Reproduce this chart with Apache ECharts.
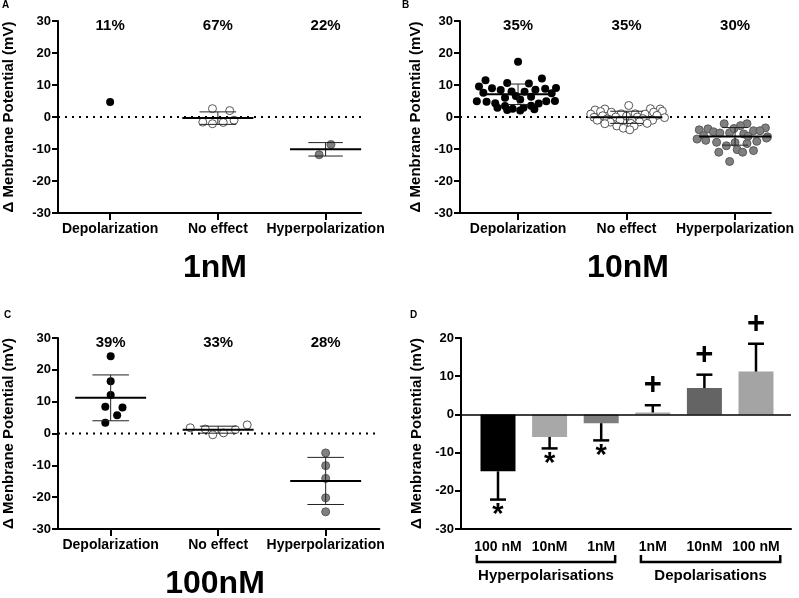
<!DOCTYPE html>
<html><head><meta charset="utf-8">
<script src="https://cdn.jsdelivr.net/npm/echarts@6/dist/echarts.min.js"></script>
<style>html,body{margin:0;padding:0;background:#fff}#c{width:799px;height:598px}</style>
</head><body><div id="c"></div>
<script>
// ---------------- DATA ----------------
const categories = ['Depolarization', 'No effect', 'Hyperpolarization'];
const panelTitles = ['1nM', '10nM', '100nM'];
const panelLetters = ['A', 'B', 'C', 'D'];
const yAxisName = '\u0394 Menbrane Potential (mV)';
const pctA = ['11%', '67%', '22%'];
const pctB = ['35%', '35%', '30%'];
const pctC = ['39%', '33%', '28%'];

// individual cells: [horizontal scatter offset within the column, value in mV]
const aDepol = [[0, 4.7]];
const aNoEffect = [[-0.05, 2.6], [0.11, 2.0], [-0.14, -1.6], [-0.05, -2.1], [0.05, -1.7], [0.15, -1.0]];
const aHyper = [[-0.06, -11.8], [0.05, -8.6]];
const aMean = [null, -0.3, -10.1];
const aSdLow = [null, -2.3, -12.2];
const aSdHigh = [null, 1.6, -8.0];

const bDepol = [[0.00, 17.3], [0.22, 12.0], [-0.30, 11.5], [-0.10, 10.6], [0.10, 10.5], [-0.36, 9.5], [0.35, 9.1],
  [-0.24, 9.0], [0.25, 8.8], [-0.16, 8.4], [0.16, 8.5], [-0.06, 8.0], [0.06, 7.9], [-0.32, 7.6], [0.31, 7.4],
  [-0.02, 6.6], [0.12, 6.3], [-0.12, 6.0], [0.02, 5.5], [-0.38, 4.9], [-0.29, 4.8], [0.26, 4.9], [0.34, 5.0],
  [-0.21, 4.3], [0.19, 4.2], [-0.12, 3.4], [0.12, 3.5], [-0.19, 2.9], [0.05, 2.9], [-0.05, 2.6], [0.15, 2.4],
  [-0.10, 2.2], [0.02, 2.0]];
const bNoEffect = [[0.02, 3.6], [-0.20, 2.5], [0.22, 2.6], [-0.29, 2.2], [0.31, 2.5], [-0.24, 1.7], [-0.14, 1.5],
  [0.25, 1.5], [0.33, 1.8], [-0.33, 0.9], [-0.05, 1.0], [0.08, 1.0], [0.17, 0.9], [-0.22, 0.4], [0.28, 0.5],
  [-0.10, 0.0], [0.10, 0.0], [0.00, 0.3], [-0.30, -0.1], [0.35, -0.2], [-0.18, -0.6], [0.15, -0.5], [-0.27, -1.0],
  [-0.06, -1.0], [0.05, -1.1], [0.24, -1.0], [-0.15, -1.6], [0.12, -1.5], [-0.20, -2.1], [0.04, -2.0], [0.19, -2.0],
  [-0.09, -2.8], [0.07, -2.8], [-0.03, -3.5], [0.03, -4.0]];
const bHyper = [[-0.10, -2.1], [0.11, -2.1], [0.05, -2.7], [-0.25, -3.7], [0.28, -3.4], [-0.33, -4.0], [-0.20, -4.6],
  [-0.14, -5.0], [-0.05, -4.9], [0.17, -4.3], [0.23, -4.3], [0.08, -5.3], [0.34, -3.8], [-0.01, -3.6], [-0.29, -5.8],
  [0.30, -6.2], [-0.27, -7.3], [-0.17, -7.9], [0.00, -8.0], [0.20, -7.6], [0.29, -6.6], [-0.08, -9.0], [0.11, -8.3],
  [-0.35, -6.9], [-0.15, -11.0], [0.02, -10.2], [0.07, -11.0], [0.17, -10.5], [-0.05, -13.9], [0.12, -6.0]];
const bMean = [7.1, -0.1, -6.1];
const bSdLow = [3.9, -2.0, -8.8];
const bSdHigh = [10.3, 1.8, -3.3];

const cDepol = [[0, 24.3], [0, 16.4], [0, 12.1], [-0.05, 8.4], [0.11, 8.2], [0.06, 5.7], [-0.05, 3.4]];
const cNoEffect = [[-0.26, 1.8], [-0.12, 1.4], [-0.05, -0.4], [0.05, 0.2], [0.16, 1.2], [0.27, 2.7]];
const cHyper = [[0, -6.1], [0, -10.1], [0, -14.1], [0, -20.2], [0, -24.6]];
const cMean = [11.2, 1.15, -14.9];
const cSdLow = [4.0, 0.1, -22.3];
const cSdHigh = [18.4, 2.3, -7.5];

const dCategories = ['100 nM', '10nM', '1nM', '1nM', '10nM', '100 nM'];
const dValues = [-14.9, -5.9, -2.3, 0.5, 6.9, 11.2];
const dErrEnd = [-22.3, -8.9, -6.8, 2.4, 10.4, 18.5];
const dMarks = ['*', '*', '*', '+', '+', '+'];
const dGroups = ['Hyperpolarisations', 'Depolarisations'];

// ---------------- STYLE / LAYOUT ----------------
const FF = '"Liberation Sans", Arial, Helvetica, sans-serif';
const dColors = ['#000000', '#a8a8a8', '#7e7e7e', '#a8a8a8', '#646464', '#a4a4a4'];
const MEAN_HALF = 0.33;
const panels = [
  {left: 53, top: 21, height: 192, min: -0.484, axisEnd: 2.33, dotEnd: 2.53, scale: 109.5, nameGap: 42,
   pts: [aDepol, aNoEffect, aHyper], mean: aMean, lo: aSdLow, hi: aSdHigh, cap: [0.17, 0.17, 0.16], pct: pctA,
   title: [215, 268], letter: [2, 5]},
  {left: 460, top: 21, height: 192, min: -0.535, axisEnd: 2.33, dotEnd: 2.49, scale: 108.5, nameGap: 37,
   pts: [bDepol, bNoEffect, bHyper], mean: bMean, lo: bSdLow, hi: bSdHigh, cap: [0.1, 0.15, 0.12], pct: pctB,
   title: [628, 268], letter: [402, 5]},
  {left: 52, top: 338, height: 191, min: -0.49, axisEnd: 2.50, dotEnd: 2.47, scale: 109.5, nameGap: 42,
   pts: [cDepol, cNoEffect, cHyper], mean: cMean, lo: cSdLow, hi: cSdHigh, cap: [0.17, 0.17, 0.17], pct: pctC,
   title: [215, 584], letter: [4, 315]}
];
const pointStyles = [
  {color: '#000000', borderColor: '#000000', borderWidth: 0},
  {color: '#ffffff', borderColor: '#555555', borderWidth: 1},
  {color: '#808080', borderColor: '#5a5a5a', borderWidth: 1}
];
const D = {left: 461, top: 338, height: 191, min: -0.717, max: 5.678, letter: [410, 315],
  brackets: [[-0.41, 2.27], [2.77, 5.47]]};

const grids = [], xAxes = [], yAxes = [], series = [];

function yAxisCfg(gi, min, max, gap) {
  return {
    type: 'value', gridIndex: gi, min: min, max: max, interval: 10,
    axisLine: {show: true, onZero: false, lineStyle: {color: '#000', width: 2}},
    axisTick: {show: true, length: 6, lineStyle: {color: '#000', width: 2}},
    axisLabel: {color: '#000', fontWeight: 'bold', fontSize: 13, fontFamily: FF, margin: 7},
    splitLine: {show: false},
    name: yAxisName, nameLocation: 'middle', nameGap: gap,
    nameTextStyle: {color: '#000', fontWeight: 'bold', fontSize: 15, fontFamily: FF}
  };
}

panels.forEach((p, gi) => {
  grids.push({left: p.left, top: p.top, width: (p.axisEnd - p.min) * p.scale, height: p.height});
  xAxes.push({
    type: 'value', gridIndex: gi, min: p.min, max: p.axisEnd,
    axisLine: {show: true, onZero: false, lineStyle: {color: '#000', width: 2}},
    axisTick: {show: true, customValues: [0, 1, 2], length: 7, lineStyle: {color: '#000', width: 2}},
    axisLabel: {show: true, customValues: [0, 1, 2], formatter: v => categories[Math.round(v)] || '',
      color: '#000', fontWeight: 'bold', fontSize: 14, fontFamily: FF, margin: 9},
    splitLine: {show: false}
  });
  yAxes.push(yAxisCfg(gi, -30, 30, p.nameGap));
  // zero dotted reference (runs a little past the axis end, as in the figure)
  series.push({type: 'line', xAxisIndex: gi, yAxisIndex: gi, data: [[p.min, 0], [p.dotEnd, 0]], symbol: 'none',
    silent: true, z: 1, clip: false, lineStyle: {color: '#000', width: 2, type: [2, 5]}});
  // points
  p.pts.forEach((arr, ci) => {
    series.push({type: 'scatter', xAxisIndex: gi, yAxisIndex: gi, symbolSize: 8, z: 2, silent: true,
      itemStyle: Object.assign({opacity: 1}, pointStyles[ci]),
      data: arr.map(d => [ci + d[0], d[1]])});
  });
  // mean + SD
  const sdata = [];
  p.mean.forEach((m, i) => { if (m !== null) sdata.push([i, m, p.lo[i], p.hi[i]]); });
  const capArr = p.cap;
  series.push({type: 'custom', xAxisIndex: gi, yAxisIndex: gi, z: 4, silent: true, clip: false,
    encode: {x: 0, y: 1}, data: sdata,
    renderItem: (params, api) => {
      const x = api.value(0), m = api.value(1), l = api.value(2), h = api.value(3);
      const c = capArr[Math.round(x)];
      const P = (a, b) => api.coord([a, b]);
      const L = (p1, p2, w, col) => ({type: 'line', shape: {x1: p1[0], y1: p1[1], x2: p2[0], y2: p2[1]},
        style: {stroke: col, lineWidth: w}});
      return {type: 'group', children: [
        L(P(x, l), P(x, h), 1, '#222'),
        L(P(x - c, h), P(x + c, h), 1, '#222'),
        L(P(x - c, l), P(x + c, l), 1, '#222'),
        L(P(x - MEAN_HALF, m), P(x + MEAN_HALF, m), 2, '#000')
      ]};
    }});
  // percentage labels
  const pct = p.pct;
  series.push({type: 'scatter', xAxisIndex: gi, yAxisIndex: gi, symbolSize: 0, silent: true, z: 7, clip: false,
    itemStyle: {opacity: 1},
    data: pct.map((t, i) => [i, 30]),
    label: {show: true, position: 'inside', offset: [0, 5], formatter: prm => pct[prm.dataIndex],
      color: '#000', fontWeight: 'bold', fontSize: 15, fontFamily: FF}});
});

// ---------- Panel D ----------
grids.push({left: D.left, top: D.top, width: (D.max - D.min) * 51.6, height: D.height});
xAxes.push({
  type: 'value', gridIndex: 3, min: D.min, max: D.max,
  axisLine: {show: true, onZero: false, lineStyle: {color: '#000', width: 2}},
  axisTick: {show: false},
  axisLabel: {show: true, customValues: [0, 1, 2, 3, 4, 5], formatter: v => dCategories[Math.round(v)] || '',
    color: '#000', fontWeight: 'bold', fontSize: 14, fontFamily: FF, margin: 11},
  splitLine: {show: false}
});
yAxes.push(yAxisCfg(3, -30, 20, 37));
series.push({type: 'bar', xAxisIndex: 3, yAxisIndex: 3, barWidth: 35, silent: true, z: 2,
  data: dValues.map((v, i) => ({value: [i, v], itemStyle: {color: dColors[i]}})),
  markLine: {silent: true, symbol: 'none', label: {show: false}, animation: false,
    lineStyle: {color: '#000', width: 1.5, type: 'solid'}, data: [{yAxis: 0}]}});
series.push({type: 'custom', xAxisIndex: 3, yAxisIndex: 3, z: 4, silent: true, clip: false,
  encode: {x: 0, y: 1}, data: dValues.map((v, i) => [i, v, dErrEnd[i]]),
  renderItem: (params, api) => {
    const a = api.coord([api.value(0), api.value(1)]);
    const b = api.coord([api.value(0), api.value(2)]);
    return {type: 'group', children: [
      {type: 'line', shape: {x1: a[0], y1: a[1], x2: b[0], y2: b[1]}, style: {stroke: '#000', lineWidth: 2.5}},
      {type: 'line', shape: {x1: b[0] - 8, y1: b[1], x2: b[0] + 8, y2: b[1]}, style: {stroke: '#000', lineWidth: 2.5}}
    ]};
  }});
series.push({type: 'scatter', xAxisIndex: 3, yAxisIndex: 3, symbolSize: 0, silent: true, z: 7, clip: false,
  itemStyle: {opacity: 1},
  data: dErrEnd.map((e, i) => ({value: [i, e], label: dMarks[i] === '*'
    ? {position: 'bottom', distance: 1, fontSize: 29}
    : {position: 'top', distance: 4, fontSize: 31}})),
  label: {show: true, formatter: prm => dMarks[prm.dataIndex], color: '#000', fontWeight: 'bold', fontFamily: FF}});

const chart = echarts.init(document.getElementById('c'), null, {renderer: 'canvas'});
chart.setOption({animation: false, backgroundColor: '#fff', grid: grids, xAxis: xAxes, yAxis: yAxes, series: series});

// ---------- annotations ----------
const gfx = [];
const txt = (x, y, text, size, align) => ({type: 'text', x: x, y: y, silent: true, z: 10,
  style: {text: text, fill: '#000', font: 'bold ' + size + 'px ' + FF,
    textAlign: align || 'center', align: align || 'center', textVerticalAlign: 'middle', verticalAlign: 'middle'}});
panels.forEach((p, i) => {
  gfx.push(txt(p.title[0], p.title[1], panelTitles[i], 32));
  gfx.push(txt(p.letter[0], p.letter[1], panelLetters[i], 10, 'left'));
});
gfx.push(txt(D.letter[0], D.letter[1], panelLetters[3], 10, 'left'));
D.brackets.forEach((br, i) => {
  const x1 = chart.convertToPixel({xAxisIndex: 3}, br[0]);
  const x2 = chart.convertToPixel({xAxisIndex: 3}, br[1]);
  gfx.push({type: 'polyline', silent: true, z: 10, shape: {points: [[x1, 555], [x1, 562], [x2, 562], [x2, 555]]},
    style: {stroke: '#000', lineWidth: 2.5, fill: null}});
  gfx.push(txt((x1 + x2) / 2, 576, dGroups[i], 15));
});
chart.setOption({graphic: gfx});
</script></body></html>
